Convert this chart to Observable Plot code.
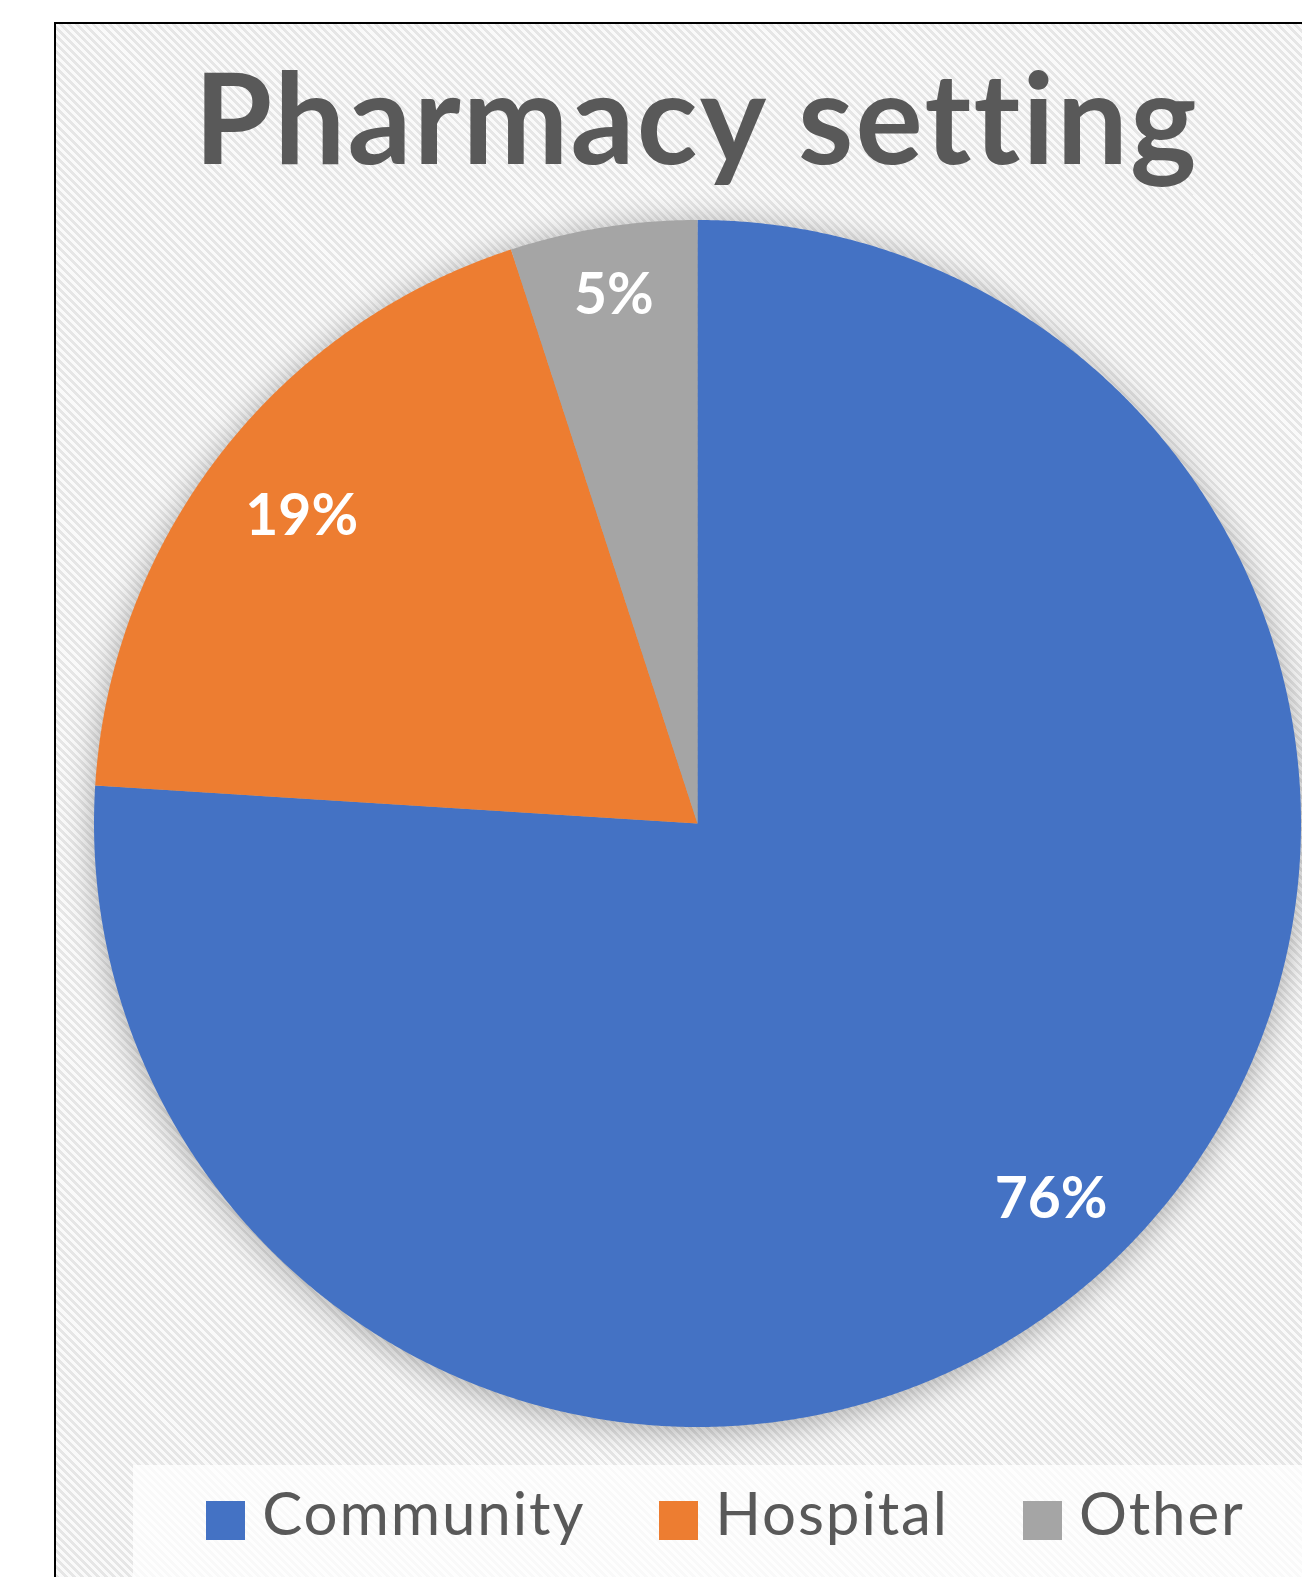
<!DOCTYPE html>
<html>
<head>
<meta charset="utf-8">
<script src="https://cdn.jsdelivr.net/npm/d3@7"></script>
<script src="https://cdn.jsdelivr.net/npm/@observablehq/plot@0.6"></script>
<style>
  html, body { margin: 0; padding: 0; width: 1302px; height: 1577px; overflow: hidden; background: #fff; }
  #frame {
    position: absolute; left: 54px; top: 22px; width: 1248px; height: 1555px;
    border-left: 2px solid #000; border-top: 2px solid #000; box-sizing: border-box;
    background: repeating-linear-gradient(45deg, #e6e6e6 0px, #e6e6e6 2.8px, #fafafa 2.8px, #fafafa 5.7px);
  }
  #title {
    position: absolute; left: 0; top: 53px; width: 1393px; text-align: center;
    font-family: Lato, sans-serif; font-weight: 700; font-size: 126px; line-height: 1;
    letter-spacing: 2.2px; font-variant-ligatures: none;
    color: #595959; white-space: nowrap;
  }
  #chart { position: absolute; left: 0; top: 200px; }
  #chart svg { overflow: visible; }
  #legendbox {
    position: absolute; left: 133px; top: 1465px; right: 0; bottom: 0;
    background: rgba(255,255,255,0.75);
  }
  #legend {
    position: absolute; left: 0; top: 1482px; width: 1302px; padding-left: 149px; box-sizing: border-box;
    text-align: center; font-family: Lato, sans-serif; font-size: 60px; line-height: 1; color: #595959;
    letter-spacing: 1.9px; font-variant-ligatures: none; white-space: nowrap;
  }
  #legend .item { display: inline-block; margin: 0 37px; }
  #legend .sw { display: inline-block; width: 39px; height: 39px; vertical-align: -5px; margin-right: 17px; }
</style>
</head>
<body>
<div id="frame"></div>
<div id="title">Pharmacy setting</div>
<div id="chart"></div>
<div id="legendbox"></div>
<div id="legend"></div>
<script>
// ---- data ----
const categories = ["Community", "Hospital", "Other"];
const shares = [76, 19, 5];
const shareLabels = ["76%", "19%", "5%"];
const colors = ["#4472C4", "#ED7D31", "#A5A5A5"];

// ---- geometry built from the data ----
const arcs = d3.pie().sort(null)(shares);
function sliceRing(a0, a1) {
  const n = Math.max(2, Math.ceil((a1 - a0) / (Math.PI / 720)));
  const pts = [[0, 0]];
  for (let i = 0; i <= n; i++) {
    const a = a0 + (a1 - a0) * i / n;
    pts.push([Math.sin(a), Math.cos(a)]);
  }
  pts.push([0, 0]);
  return pts;
}
const slices = arcs.map((a, i) => ({
  type: "Feature",
  properties: { category: categories[i] },
  geometry: { type: "Polygon", coordinates: [sliceRing(a.startAngle, a.endAngle)] }
}));
const outline = {
  type: "Polygon",
  coordinates: [d3.range(0, 361).map(d => [Math.sin(d * Math.PI / 180), Math.cos(d * Math.PI / 180)])]
};
// label placement (fraction of radius along each slice's mid-angle), layout only
const labelRadius = { "Community": 0.856, "Hospital": 0.83, "Other": 0.885 };
const labelRows = arcs.map((a, i) => {
  const m = (a.startAngle + a.endAngle) / 2;
  const k = labelRadius[categories[i]];
  return { x: Math.sin(m) * k, y: Math.cos(m) * k, text: shareLabels[i] };
});

const plot = Plot.plot({
  width: 1302,
  height: 1250,
  marginLeft: 93.5,
  marginRight: 1.5,
  marginTop: 19.5,
  marginBottom: 23.5,
  projection: { type: "reflect-y", domain: outline, inset: 0 },
  color: { domain: categories, range: colors },
  style: { background: "transparent", overflow: "visible" },
  marks: [
    Plot.geo(slices, { fill: d => d.properties.category, stroke: "none" }),
    Plot.text(labelRows, {
      x: "x", y: "y", text: "text",
      fill: "white", fontSize: 57, fontWeight: 700, fontFamily: "Lato, sans-serif"
    })
  ]
});
const geoG = plot.querySelector('g[aria-label="geo"]');
if (geoG) geoG.style.filter = "drop-shadow(0px 4px 16px rgba(0,0,0,0.32))";
document.getElementById("chart").appendChild(plot);

// ---- legend ----
const legend = document.getElementById("legend");
categories.forEach((c, i) => {
  const item = document.createElement("span");
  item.className = "item";
  const sw = document.createElement("span");
  sw.className = "sw";
  sw.style.background = colors[i];
  item.appendChild(sw);
  item.appendChild(document.createTextNode(c));
  legend.appendChild(item);
});
</script>
</body>
</html>
